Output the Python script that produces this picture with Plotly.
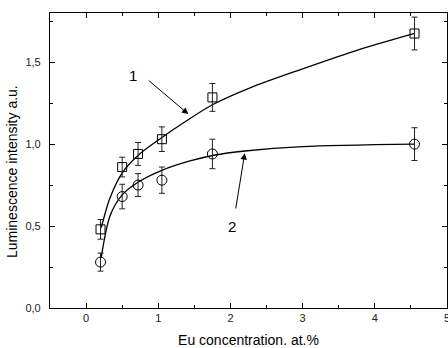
import plotly.graph_objects as go

# Measured data (Eu concentration, at.%)
conc = [0.2, 0.5, 0.72, 1.05, 1.75, 4.55]
int1 = [0.48, 0.86, 0.94, 1.03, 1.285, 1.675]
err1 = [0.06, 0.06, 0.07, 0.075, 0.085, 0.1]
int2 = [0.28, 0.68, 0.75, 0.78, 0.94, 1.0]
err2 = [0.055, 0.075, 0.07, 0.08, 0.09, 0.1]

# Fitted curves
fit1_x = [0.21, 0.33, 0.51, 0.73, 1.05, 1.35, 1.75, 2.28, 2.97, 3.7, 4.55]
fit1_y = [0.49, 0.67, 0.83, 0.935, 1.04, 1.13, 1.24, 1.345, 1.455, 1.565, 1.675]
fit2_x = [0.21, 0.33, 0.5, 0.73, 1.05, 1.44, 1.77, 2.2, 3.0, 4.55]
fit2_y = [0.31, 0.56, 0.69, 0.77, 0.84, 0.897, 0.932, 0.958, 0.985, 1.0]

x_ticks = [0, 1, 2, 3, 4, 5]
y_ticks = [0.0, 0.5, 1.0, 1.5]
y_ticktext = ["0,0", "0,5", "1,0", "1,5"]

fig = go.Figure()

for fx, fy in [(fit1_x, fit1_y), (fit2_x, fit2_y)]:
    fig.add_trace(go.Scatter(x=fx, y=fy, mode="lines",
                             line=dict(color="black", width=1.3, shape="spline", smoothing=0.8),
                             hoverinfo="skip", showlegend=False))

fig.add_trace(go.Scatter(x=conc, y=int1, mode="markers",
                         marker=dict(symbol="square-open", size=9, color="black", line=dict(width=1)),
                         error_y=dict(type="data", array=err1, visible=True, color="#222", thickness=1, width=3),
                         showlegend=False))
fig.add_trace(go.Scatter(x=conc, y=int2, mode="markers",
                         marker=dict(symbol="circle-open", size=10, color="black", line=dict(width=1)),
                         error_y=dict(type="data", array=err2, visible=True, color="#222", thickness=1, width=3),
                         showlegend=False))

# Curve labels and arrows
label1 = dict(text="1", x=0.653, y=1.421, tail=(0.847, 1.396), tip=(1.417, 1.183))
label2 = dict(text="2", x=2.024, y=0.496, tail=(2.07, 0.598), tip=(2.198, 0.945))
for lab in (label1, label2):
    fig.add_annotation(x=lab["x"], y=lab["y"], text=lab["text"], showarrow=False,
                       font=dict(family="Liberation Sans, Arial", size=15, color="black"))
    fig.add_annotation(x=lab["tip"][0], y=lab["tip"][1], ax=lab["tail"][0], ay=lab["tail"][1],
                       axref="x", ayref="y", xref="x", yref="y", text="", showarrow=True,
                       arrowhead=2, arrowsize=1.3, arrowwidth=1, arrowcolor="black", standoff=0)

fig.add_annotation(x=-0.0957, y=0.461, xref="paper", yref="paper",
                   text="Luminescence intensity a.u.", textangle=-90, showarrow=False,
                   xanchor="center", yanchor="middle",
                   font=dict(family="Liberation Sans, Arial", size=14, color="black"))

axis_common = dict(showline=True, linecolor="black", linewidth=1.2, mirror="ticks",
                   ticks="inside", ticklen=5, tickwidth=1, tickcolor="black",
                   showgrid=False, zeroline=False, ticklabeloverflow="allow", automargin=False,
                   tickfont=dict(family="Liberation Sans, Arial", size=11, color="#222"))

fig.update_xaxes(range=[-0.5, 5], tickvals=x_ticks, ticktext=[str(v) for v in x_ticks],
                 minor=dict(ticks="inside", ticklen=3, tickwidth=1, tickcolor="black", dtick=0.5, tick0=0),
                 title=dict(text="Eu concentration. at.%", standoff=14,
                            font=dict(family="Liberation Sans, Arial", size=14, color="black")),
                 **axis_common)
fig.update_yaxes(range=[0, 1.8], tickvals=y_ticks, ticktext=y_ticktext, ticklabelstandoff=6,
                 minor=dict(ticks="inside", ticklen=3, tickwidth=1, tickcolor="black", dtick=0.25, tick0=0),
                 **axis_common)

fig.update_layout(width=448, height=348,
                  margin=dict(l=50, r=1, t=13, b=40, autoexpand=False),
                  paper_bgcolor="white", plot_bgcolor="white", showlegend=False)

fig.write_html("out.html")
